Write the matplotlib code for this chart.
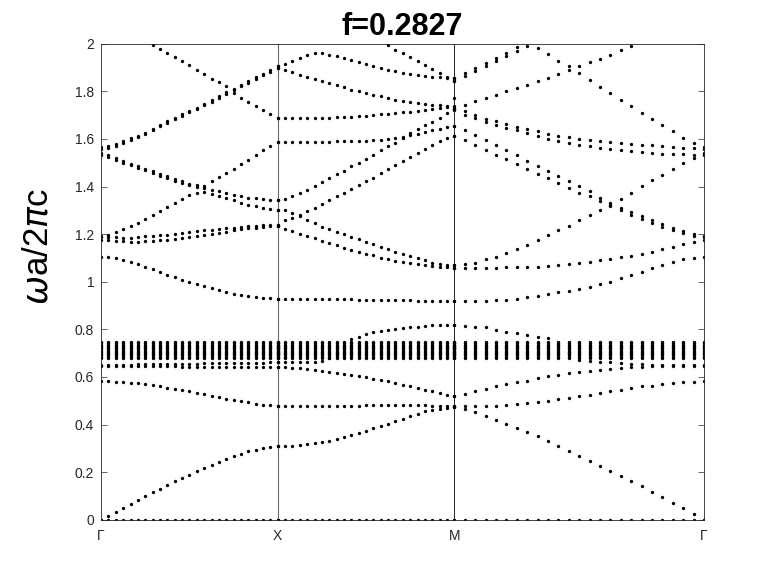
import numpy as np
import matplotlib
matplotlib.use("Agg")
import matplotlib.pyplot as plt

nan = float("nan")

# ---------------- data (frequencies wa/2pic) ----------------
tick_labels = ["Γ", "X", "M", "Γ"]
title_text = "f=0.2827"
n_k = 25  # k-points per segment (endpoints included)

zero_levels = [0.0]
flat_levels = [0.681, 0.686, 0.691, 0.696, 0.701, 0.706, 0.711, 0.716,
               0.721, 0.726, 0.731, 0.736, 0.741, 0.745]

# ---- Gamma -> X ----
gx_acoustic = [0.000, 0.017, 0.033, 0.050, 0.066, 0.083, 0.099, 0.115, 0.131, 0.146, 0.161, 0.175,
               0.189, 0.203, 0.216, 0.229, 0.241, 0.254, 0.266, 0.277, 0.287, 0.295, 0.302, 0.307, 0.311]
gx_b2 = [0.581, 0.581, 0.580, 0.578, 0.576, 0.573, 0.569, 0.565, 0.560, 0.555, 0.550, 0.545,
         0.539, 0.533, 0.527, 0.521, 0.515, 0.509, 0.503, 0.498, 0.493, 0.488, 0.484, 0.481, 0.479]
gx_b3 = [0.647, 0.647, 0.647, 0.647, 0.647, 0.646, 0.646, 0.646, 0.645, 0.645, 0.645, 0.644,
         0.644, 0.643, 0.643, 0.643, 0.642, 0.642, 0.642, 0.641, 0.641, 0.641, 0.640, 0.640, 0.640]
gx_b4 = [0.652, 0.652, 0.652, 0.652, 0.652, 0.653, 0.653, 0.653, 0.654, 0.654, 0.655, 0.655,
         0.656, 0.656, 0.657, 0.657, 0.658, 0.658, 0.659, 0.659, 0.660, 0.660, 0.660, 0.661, 0.661]
gx_b5 = [1.106, 1.104, 1.099, 1.091, 1.083, 1.073, 1.062, 1.052, 1.041, 1.030, 1.019, 1.009,
         0.999, 0.990, 0.981, 0.972, 0.964, 0.957, 0.950, 0.944, 0.939, 0.935, 0.932, 0.930, 0.929]
gx_flat_up = [1.188, 1.188, 1.188, 1.186, 1.186, 1.188, 1.191, 1.193, 1.195, 1.198, 1.202, 1.205,
              1.209, 1.212, 1.216, 1.219, 1.221, 1.224, 1.227, 1.230, 1.233, 1.235, 1.237, 1.238, 1.239]
gx_flat_lo = [1.176, 1.176, 1.172, 1.170, 1.168, 1.168, 1.170, 1.172, 1.174, 1.176, 1.181, 1.183,
              1.188, 1.192, 1.196, 1.202, 1.207, 1.211, 1.216, 1.221, 1.224, 1.228, 1.232, 1.235, 1.236]
gx_c1 = [1.541, 1.531, 1.520, 1.508, 1.496, 1.485, 1.475, 1.464, 1.452, 1.443, 1.431, 1.422,
         1.412, 1.405, 1.403, 1.424, 1.440, 1.458, 1.476, 1.494, 1.513, 1.531, 1.552, 1.571, 1.588]
gx_c2 = [1.534, 1.524, 1.513, 1.501, 1.489, 1.478, 1.468, 1.457, 1.445, 1.436, 1.424, 1.415,
         1.405, 1.398, 1.396, 1.387, 1.380, 1.373, 1.366, 1.359, 1.354, 1.350, 1.347, 1.345, 1.343]
gx_c3 = [1.193, 1.197, 1.209, 1.221, 1.235, 1.249, 1.265, 1.280, 1.298, 1.314, 1.331, 1.347,
         1.363, 1.375, 1.377, 1.370, 1.361, 1.352, 1.342, 1.333, 1.324, 1.317, 1.311, 1.305, 1.303]
gx_r1 = [1.566, 1.569, 1.578, 1.590, 1.604, 1.613, 1.627, 1.643, 1.660, 1.674, 1.688, 1.704,
         1.718, 1.732, 1.748, 1.762, 1.779, 1.796, 1.810, 1.828, 1.842, 1.859, 1.874, 1.888, 1.905]
gx_r2 = [1.559, 1.563, 1.572, 1.584, 1.597, 1.607, 1.621, 1.637, 1.653, 1.668, 1.682, 1.698,
         1.712, 1.726, 1.742, 1.756, 1.773, 1.790, 1.804, 1.822, 1.836, 1.853, 1.868, 1.882, 1.899]
gx_top = [nan, nan, nan, nan, nan, nan, nan, 1.996, 1.978, 1.961, 1.943, 1.926,
          1.909, 1.891, 1.873, 1.854, 1.838, 1.824, 1.795, 1.772, 1.757, 1.739, 1.723, 1.705, 1.688]

# ---- X -> M ----
xm_acoustic = [0.311, 0.311, 0.312, 0.315, 0.318, 0.322, 0.328, 0.333, 0.340, 0.347, 0.356, 0.364,
               0.374, 0.384, 0.392, 0.403, 0.413, 0.424, 0.434, 0.445, 0.455, 0.462, 0.466, 0.470, 0.474]
xm_b2 = [0.479, 0.479, 0.479, 0.479, 0.479, 0.479, 0.479, 0.480, 0.480, 0.480, 0.480, 0.480,
         0.481, 0.481, 0.481, 0.481, 0.481, 0.481, 0.481, 0.481, 0.481, 0.480, 0.480, 0.479, 0.477]
xm_b3 = [0.640, 0.640, 0.639, 0.637, 0.634, 0.630, 0.626, 0.621, 0.616, 0.612, 0.607, 0.602,
         0.598, 0.593, 0.588, 0.581, 0.574, 0.567, 0.560, 0.553, 0.546, 0.539, 0.532, 0.526, 0.521]
xm_b4 = [0.661, 0.661, 0.662, 0.662, 0.663, 0.663, 0.667, 0.680, 0.700, 0.725, 0.760, 0.770,
         0.780, 0.787, 0.793, 0.798, 0.802, 0.806, 0.809, 0.812, 0.815, 0.817, 0.818, 0.819, 0.820]
xm_b5 = [0.929, 0.929, 0.929, 0.929, 0.928, 0.928, 0.928, 0.927, 0.927, 0.926, 0.926, 0.925,
         0.925, 0.924, 0.924, 0.923, 0.923, 0.922, 0.922, 0.921, 0.921, 0.921, 0.920, 0.920, 0.920]
xm_r = [1.236, 1.223, 1.213, 1.202, 1.193, 1.183, 1.172, 1.162, 1.153, 1.144, 1.134, 1.127,
        1.118, 1.111, 1.102, 1.095, 1.088, 1.083, 1.078, 1.074, 1.070, 1.066, 1.064, 1.062, 1.057]
xm_p = [1.303, 1.300, 1.289, 1.282, 1.261, 1.246, 1.232, 1.223, 1.211, 1.200, 1.190, 1.179,
        1.168, 1.158, 1.148, 1.137, 1.127, 1.118, 1.109, 1.099, 1.090, 1.081, 1.074, 1.070, 1.069]
xm_q = [1.239, 1.258, 1.268, 1.277, 1.298, 1.312, 1.328, 1.342, 1.359, 1.373, 1.389, 1.406,
        1.423, 1.438, 1.457, 1.473, 1.490, 1.507, 1.524, 1.541, 1.557, 1.574, 1.590, 1.604, 1.613]
xm_a = [1.343, 1.347, 1.359, 1.373, 1.387, 1.403, 1.419, 1.434, 1.451, 1.466, 1.485, 1.499,
        1.515, 1.534, 1.552, 1.569, 1.585, 1.604, 1.625, 1.641, 1.657, 1.673, 1.690, 1.708, 1.725]
xm_u = [1.588, 1.588, 1.588, 1.588, 1.588, 1.588, 1.589, 1.589, 1.590, 1.590, 1.591, 1.592,
        1.593, 1.595, 1.597, 1.600, 1.604, 1.609, 1.615, 1.622, 1.629, 1.636, 1.643, 1.649, 1.655]
xm_t = [1.688, 1.688, 1.688, 1.688, 1.688, 1.689, 1.689, 1.690, 1.691, 1.692, 1.694, 1.696,
        1.698, 1.700, 1.703, 1.706, 1.709, 1.712, 1.715, 1.719, 1.723, 1.727, 1.731, 1.734, 1.737]
xm_top1 = [1.905, 1.916, 1.929, 1.940, 1.954, 1.961, 1.961, 1.955, 1.948, 1.940, 1.932, 1.923,
           1.915, 1.907, 1.899, 1.892, 1.885, 1.879, 1.873, 1.868, 1.864, 1.861, 1.859, 1.858, 1.858]
xm_top2 = [1.899, 1.891, 1.880, 1.870, 1.860, 1.852, 1.842, 1.835, 1.825, 1.818, 1.807, 1.800,
           1.793, 1.786, 1.779, 1.772, 1.765, 1.758, 1.754, 1.751, 1.747, 1.744, 1.741, 1.739, 1.772]
xm_top3 = [nan, nan, nan, nan, nan, nan, nan, nan, nan, nan, nan, nan,
           nan, nan, nan, 1.996, 1.975, 1.960, 1.943, 1.926, 1.909, 1.893, 1.876, 1.860, 1.845]

# ---- M -> Gamma ----
mg_acoustic = [0.474, 0.466, 0.452, 0.437, 0.420, 0.403, 0.385, 0.368, 0.350, 0.329, 0.308, 0.290,
               0.269, 0.248, 0.227, 0.206, 0.183, 0.161, 0.140, 0.116, 0.094, 0.070, 0.048, 0.024, 0.000]
mg_b2 = [0.477, 0.476, 0.476, 0.478, 0.480, 0.483, 0.487, 0.490, 0.496, 0.501, 0.507, 0.513,
         0.518, 0.525, 0.532, 0.539, 0.546, 0.553, 0.560, 0.564, 0.570, 0.574, 0.577, 0.579, 0.581]
mg_b3 = [0.521, 0.529, 0.539, 0.549, 0.560, 0.570, 0.578, 0.585, 0.594, 0.602, 0.609, 0.616,
         0.620, 0.626, 0.630, 0.634, 0.637, 0.641, 0.644, 0.646, 0.647, 0.647, 0.647, 0.647, 0.647]
mg_b4 = [0.820, 0.816, 0.812, 0.808, 0.798, 0.791, 0.784, 0.777, 0.770, 0.763, 0.740, 0.705,
         0.670, 0.669, 0.665, 0.661, 0.658, 0.655, 0.653, 0.652, 0.652, 0.652, 0.652, 0.652, 0.652]
mg_b5 = [0.920, 0.920, 0.920, 0.920, 0.922, 0.924, 0.929, 0.936, 0.941, 0.948, 0.955, 0.962,
         0.971, 0.980, 0.992, 0.999, 1.015, 1.027, 1.041, 1.057, 1.071, 1.083, 1.095, 1.102, 1.106]
mg_flat = [1.057, 1.057, 1.057, 1.060, 1.060, 1.062, 1.062, 1.064, 1.064, 1.067, 1.071, 1.074,
           1.078, 1.083, 1.090, 1.097, 1.104, 1.110, 1.118, 1.126, 1.136, 1.147, 1.158, 1.168, 1.176]
mg_steep = [1.069, 1.074, 1.081, 1.095, 1.106, 1.120, 1.139, 1.155, 1.176, 1.195, 1.216, 1.235,
            1.258, 1.279, 1.300, 1.324, 1.349, 1.373, 1.401, 1.426, 1.450, 1.473, 1.499, 1.522, 1.541]
mg_da = [1.655, 1.639, 1.618, 1.597, 1.576, 1.552, 1.534, 1.508, 1.487, 1.466, 1.445, 1.422,
         1.403, 1.380, 1.354, 1.333, 1.312, 1.293, 1.275, 1.258, 1.242, 1.226, 1.212, 1.200, 1.193]
mg_db = [1.611, 1.597, 1.576, 1.555, 1.534, 1.515, 1.494, 1.473, 1.454, 1.436, 1.415, 1.394,
         1.375, 1.359, 1.338, 1.319, 1.300, 1.282, 1.264, 1.247, 1.231, 1.216, 1.203, 1.192, 1.188]
mg_row1 = [1.726, 1.716, 1.702, 1.686, 1.674, 1.662, 1.652, 1.641, 1.632, 1.622, 1.613, 1.607,
           1.602, 1.597, 1.591, 1.586, 1.583, 1.580, 1.576, 1.573, 1.570, 1.567, 1.564, 1.561, 1.559]
mg_row2 = [1.720, 1.702, 1.688, 1.671, 1.660, 1.646, 1.636, 1.625, 1.613, 1.600, 1.590, 1.583,
           1.576, 1.569, 1.562, 1.557, 1.552, 1.548, 1.544, 1.541, 1.538, 1.536, 1.535, 1.534, 1.534]
mg_rise = [1.730, 1.744, 1.758, 1.772, 1.786, 1.800, 1.814, 1.828, 1.842, 1.856, 1.873, 1.888,
           1.905, 1.922, 1.936, 1.954, 1.972, 1.989, nan, nan, nan, nan, nan, nan, nan]
mg_pk = [1.845, 1.863, 1.884, 1.905, 1.926, 1.947, 1.968, 1.992, 1.982, 1.957, 1.929, 1.905,
         1.877, 1.846, 1.818, 1.793, 1.765, 1.737, 1.711, 1.683, 1.657, 1.632, 1.606, 1.583, 1.566]
mg_up = [1.858, 1.877, 1.898, 1.919, 1.940, 1.961, 1.986, nan, nan, nan, nan, nan,
         nan, nan, nan, nan, nan, nan, nan, nan, nan, nan, nan, nan, nan]

segments = [
    (0.0, 1.0, [gx_acoustic, gx_b2, gx_b3, gx_b4, gx_b5, gx_flat_up, gx_flat_lo,
                gx_c1, gx_c2, gx_c3, gx_r1, gx_r2, gx_top]),
    (1.0, 2.0, [xm_acoustic, xm_b2, xm_b3, xm_b4, xm_b5, xm_r, xm_p, xm_q, xm_a,
                xm_u, xm_t, xm_top1, xm_top2, xm_top3]),
    (2.0, 2.0 + np.sqrt(2.0), [mg_acoustic, mg_b2, mg_b3, mg_b4, mg_b5, mg_flat, mg_steep,
                               mg_da, mg_db, mg_row1, mg_row2, mg_rise, mg_pk, mg_up]),
]

# ---------------- figure ----------------
plt.rcParams["font.family"] = ["Liberation Sans", "DejaVu Sans"]
fig = plt.figure(figsize=(7.78, 5.84), dpi=100)
ax = fig.add_axes([0.13, 0.11, 0.775, 0.815])

dot = dict(linestyle="none", marker="o", markersize=2.4, markeredgewidth=0,
           color="black", clip_on=True)

for k0, k1, bands in segments:
    kk = np.linspace(k0, k1, n_k)
    for band in bands:
        ax.plot(kk, np.array(band, dtype=float), **dot)
    for lev in zero_levels + flat_levels:
        ax.plot(kk, np.full(n_k, lev), **dot)

k_ticks = [0.0, 1.0, 2.0, 2.0 + np.sqrt(2.0)]
ax.axvline(k_ticks[1], color="#6a6a6a", linewidth=0.8, zorder=0)
ax.axvline(k_ticks[2], color="#262626", linewidth=0.7, zorder=0)

ax.set_xlim(k_ticks[0], k_ticks[-1])
ax.set_ylim(0, 2)
ax.set_xticks(k_ticks)
ax.set_xticklabels(tick_labels)
yt = np.round(np.arange(0, 2.01, 0.2), 1)
ax.set_yticks(yt)
ax.set_yticklabels([("%g" % v) for v in yt])
ax.tick_params(direction="in", length=4, width=0.5, colors="#262626",
               labelsize=10, top=True, right=True)
ax.tick_params(axis="y", pad=5)
ax.tick_params(axis="x", length=0, pad=7)
for sp in ax.spines.values():
    sp.set_linewidth(0.6)
    sp.set_color("#262626")

ax.set_title(title_text, fontsize=22, fontweight="bold", pad=6)
ax.set_ylabel(r"$\omega$a/2$\pi$c", fontsize=25)
ax.yaxis.set_label_coords(-0.078, 0.574)

fig.savefig("out.png", dpi=100)
